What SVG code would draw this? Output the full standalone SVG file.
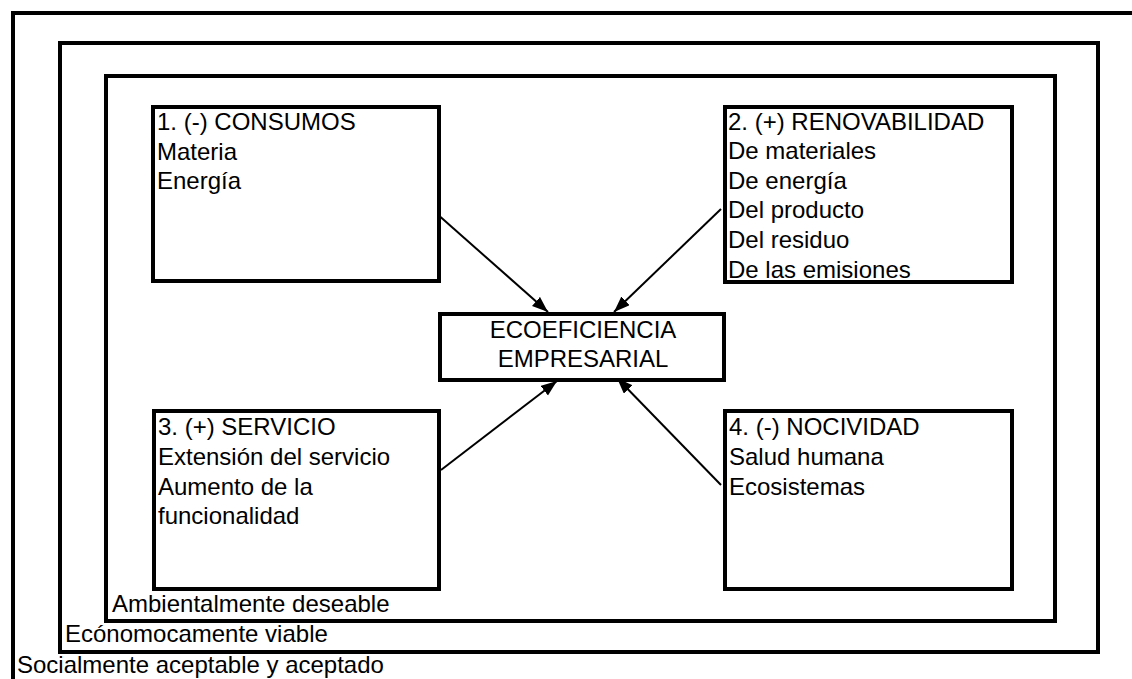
<svg xmlns="http://www.w3.org/2000/svg" width="1132" height="679" viewBox="0 0 1132 679">
<style>
.frame{fill:none;stroke:#000;stroke-width:4}
.box{fill:#fff;stroke:#000;stroke-width:4}
.t{font-family:"Liberation Sans",Arial,sans-serif;font-size:24px;fill:#000}
.c{text-anchor:middle}
.conn{stroke:#000;stroke-width:2;fill:none}
</style>
<defs>
<marker id="ah" markerUnits="userSpaceOnUse" markerWidth="18" markerHeight="14" refX="16" refY="6" orient="auto">
<path d="M0,0 L16,6 L0,12 z" fill="#000"/>
</marker>
</defs>
<rect width="1132" height="679" fill="#fff"/>
<g id="frame-social">
<path class="frame" d="M1132,13 L13,13 L13,679"/>
<text class="t" x="17" y="673">Socialmente aceptable y aceptado</text>
</g>
<g id="frame-economico">
<rect class="frame" x="60" y="43" width="1038" height="609"/>
<text class="t" x="65" y="642">Ecónomocamente viable</text>
</g>
<g id="frame-ambiental">
<rect class="frame" x="106" y="76" width="949" height="545"/>
<text class="t" x="112" y="612">Ambientalmente deseable</text>
</g>
<g id="connectors">
<line class="conn" x1="436" y1="213" x2="548" y2="312" marker-end="url(#ah)"/>
<line class="conn" x1="721" y1="209" x2="614" y2="312" marker-end="url(#ah)"/>
<line class="conn" x1="441" y1="470" x2="557" y2="381" marker-end="url(#ah)"/>
<line class="conn" x1="721" y1="485" x2="617" y2="378" marker-end="url(#ah)"/>
</g>
<g id="box-consumos">
<rect class="box" x="153" y="107" width="286" height="174"/>
<text class="t" x="157" y="130">1. (-) CONSUMOS</text>
<text class="t" x="157" y="159.5">Materia</text>
<text class="t" x="157" y="189">Energía</text>
</g>
<g id="box-renovabilidad">
<rect class="box" x="725" y="107" width="287" height="175"/>
<text class="t" x="728" y="129.5">2. (+) RENOVABILIDAD</text>
<text class="t" x="728" y="159">De materiales</text>
<text class="t" x="728" y="188.5">De energía</text>
<text class="t" x="728" y="218">Del producto</text>
<text class="t" x="728" y="248">Del residuo</text>
<text class="t" x="728" y="277.5">De las emisiones</text>
</g>
<g id="box-servicio">
<rect class="box" x="154" y="411" width="285" height="178"/>
<text class="t" x="158" y="435">3. (+) SERVICIO</text>
<text class="t" x="158" y="465">Extensión del servicio</text>
<text class="t" x="158" y="495">Aumento de la</text>
<text class="t" x="158" y="524">funcionalidad</text>
</g>
<g id="box-nocividad">
<rect class="box" x="725" y="411" width="287" height="178"/>
<text class="t" x="729" y="435">4. (-) NOCIVIDAD</text>
<text class="t" x="729" y="465">Salud humana</text>
<text class="t" x="729" y="495">Ecosistemas</text>
</g>
<g id="box-ecoeficiencia">
<rect class="box" x="440" y="314" width="284" height="66"/>
<text class="t c" x="583" y="338">ECOEFICIENCIA</text>
<text class="t c" x="583" y="367">EMPRESARIAL</text>
</g>
</svg>
